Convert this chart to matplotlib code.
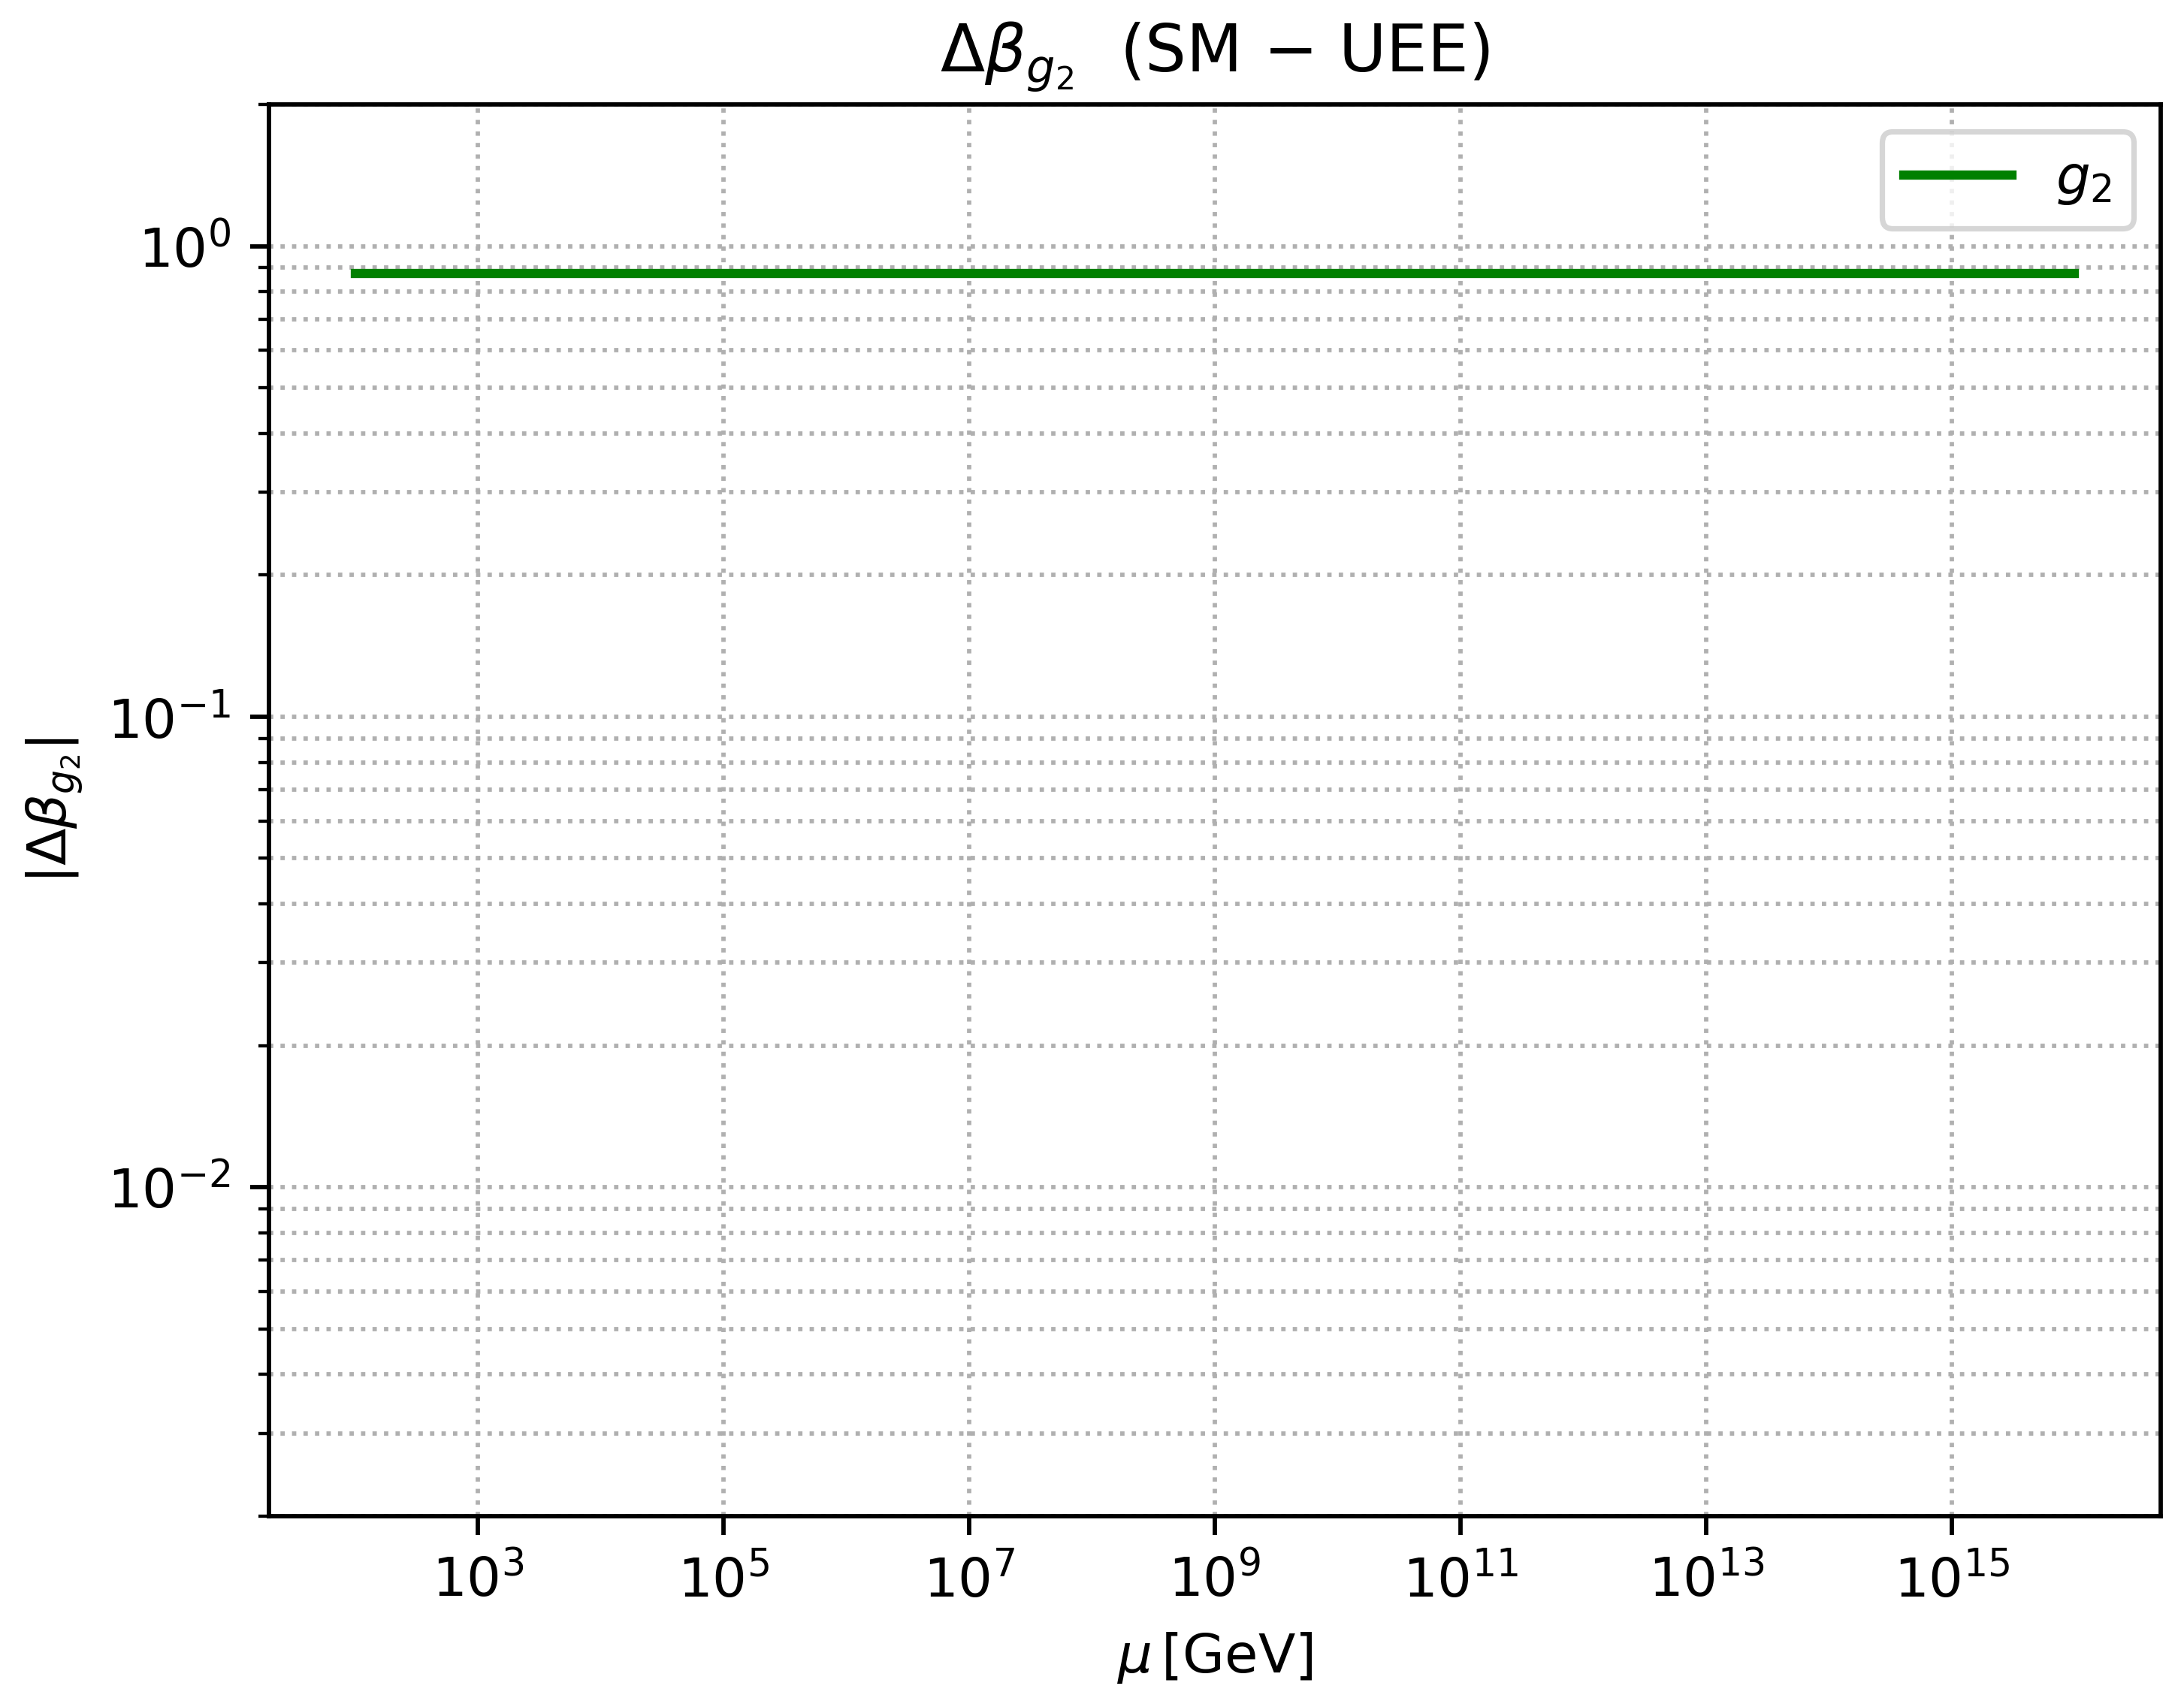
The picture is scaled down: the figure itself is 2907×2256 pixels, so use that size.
import numpy as np
import matplotlib
matplotlib.use('Agg')
import matplotlib.pyplot as plt

# 数据：能标 mu 与 |Δβ_g2|
mu_gev = [1e2, 1e16]
delta_beta_g2 = [0.875, 0.875]
x_ticks = [1e3, 1e5, 1e7, 1e9, 1e11, 1e13, 1e15]
y_limits = (2e-3, 2.0)

DPI = 520
fig = plt.figure(figsize=(2907 / DPI, 2256 / DPI), dpi=DPI)
ax = fig.add_axes([0.1232, 0.1055, 0.8661, 0.8329])

ax.plot(mu_gev, delta_beta_g2, color='green', lw=1.7, label=r'$g_2$')
ax.set_xscale('log')
ax.set_yscale('log')
ax.set_ylim(*y_limits)
ax.set_xticks(x_ticks)

ax.grid(True, which='both', ls=':')

ax.set_xlabel(r'$\mu\,[\mathrm{GeV}]$', fontsize=10)
ax.set_ylabel(r'$|\Delta\beta_{g_2}|$', fontsize=10)
ax.set_title(r'$\Delta\beta_{g_2}$  (SM $-$ UEE)', fontsize=12)
ax.legend(loc='upper right', fontsize=10)

plt.savefig('out.png', dpi=DPI)
